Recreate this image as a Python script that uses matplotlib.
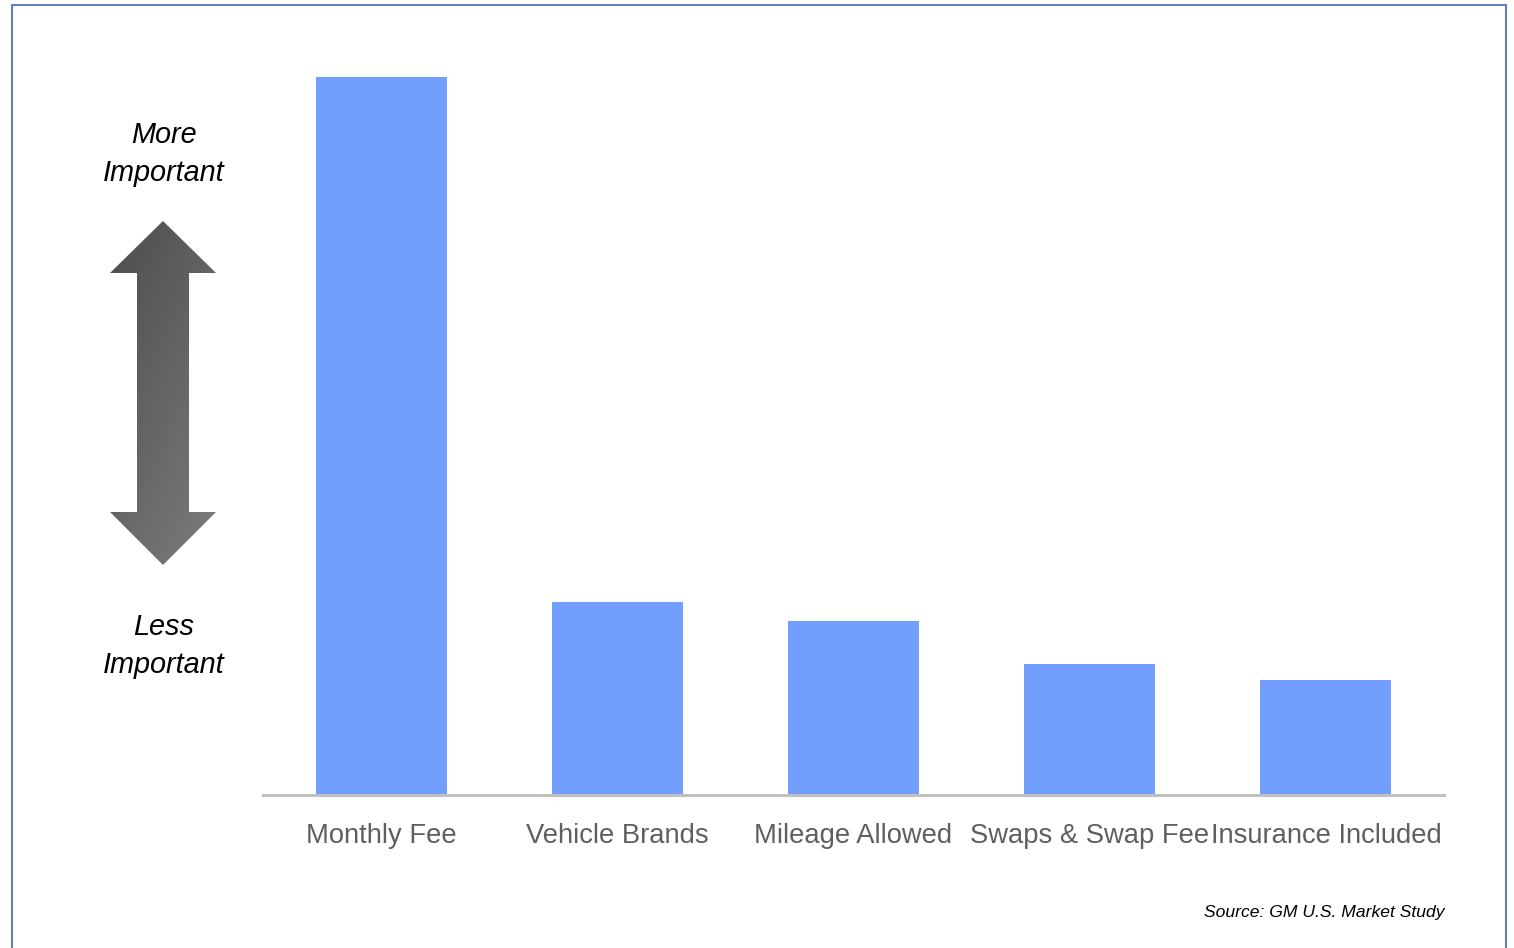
import numpy as np
import matplotlib
matplotlib.use("Agg")
import matplotlib.pyplot as plt
from matplotlib.patches import Polygon, Rectangle
from matplotlib.colors import LinearSegmentedColormap
from matplotlib import font_manager as fm

categories = ["Monthly Fee", "Vehicle Brands", "Mileage Allowed", "Swaps & Swap Fee", "Insurance Included"]
importance = [100, 26.9, 24.2, 18.2, 16.0]
source = "Source: GM U.S. Market Study"

fams = {f.name for f in fm.fontManager.ttflist}
narrow = "Liberation Sans Narrow" if "Liberation Sans Narrow" in fams else "Liberation Sans"

W, H = 1514, 948
fig = plt.figure(figsize=(W / 100, H / 100), dpi=100)
fx = lambda px: px / W
fy = lambda py: 1 - py / H

# outer frame
fig.patches.append(Rectangle((fx(12), fy(960)), fx(1506) - fx(12), fy(5) - fy(960),
                             transform=fig.transFigure, fill=False, ec="#4a72c4", lw=1.3))

ax = fig.add_axes([fx(263), fy(795), fx(1444) - fx(263), fy(60) - fy(795)])
x = np.arange(len(categories))
ax.bar(x, importance, width=0.555, color="#729efd")
ax.set_xlim(-0.5, len(categories) - 0.5)
ax.set_ylim(0, 100 * 735 / 718)
for s in ["top", "right", "left"]:
    ax.spines[s].set_visible(False)
ax.spines["bottom"].set_color("#c0c0c0")
ax.spines["bottom"].set_linewidth(2.2)
ax.set_yticks([])
ax.set_xticks(x)
ax.set_xticklabels(categories, family=narrow, fontsize=19.7, color="#5f5f5f")
ax.tick_params(axis="x", length=0, pad=20.5)

# left-side labels
for txt, py in [("More", 135), ("Important", 173), ("Less", 627), ("Important", 665)]:
    fig.text(fx(164), fy(py), txt, family=narrow, style="italic", fontsize=20.8,
             ha="center", va="center", color="black")

# double arrow with gradient
pts = [(163, 221), (216, 273), (189, 273), (189, 512), (216, 512), (163, 565),
       (110, 512), (137, 512), (137, 273), (110, 273)]
poly = Polygon([(fx(a), fy(b)) for a, b in pts], closed=True, transform=fig.transFigure,
               fc="none", ec="none")
fig.patches.append(poly)
gx, gy = np.meshgrid(np.linspace(0, 1, 64), np.linspace(0, 1, 256))
grad = 0.6 * gy + 0.4 * gx
gax = fig.add_axes([fx(110), fy(565), fx(216) - fx(110), fy(221) - fy(565)])
gax.axis("off")
cm = LinearSegmentedColormap.from_list("g", ["#4d4d4d", "#7c7c7c"])
im = gax.imshow(grad, cmap=cm, aspect="auto", extent=[0, 1, 0, 1], origin="upper")
im.set_clip_path(poly)

fig.text(fx(1444), fy(912), source, family=narrow, style="italic", fontsize=12.6,
         ha="right", va="center", color="black")

fig.savefig("out.png", dpi=100)
